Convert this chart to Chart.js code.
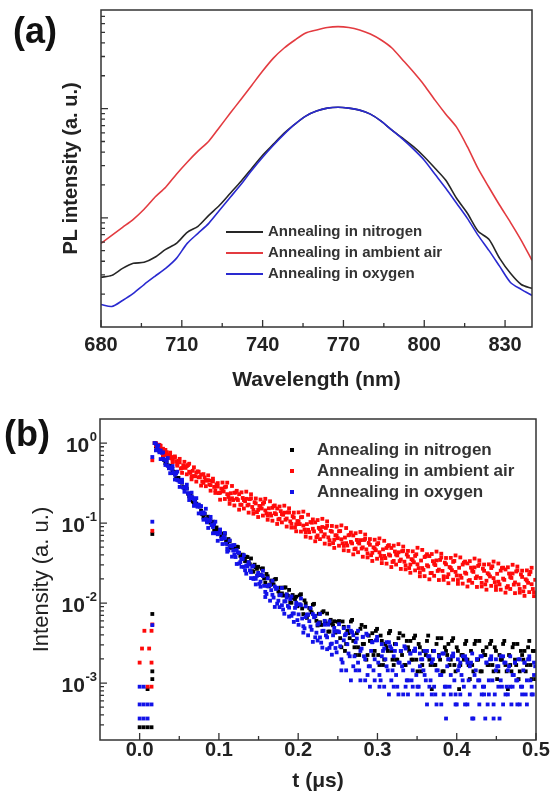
<!DOCTYPE html>
<html>
<head>
<meta charset="utf-8">
<script src="https://cdn.jsdelivr.net/npm/chart.js@4.4.1/dist/chart.umd.min.js"></script>
<style>
html, body { margin: 0; padding: 0; background: #fff; }
#wrap { position: relative; width: 552px; height: 798px; }
canvas { position: absolute; left: 0; }
#plA { top: 0; }
#plB { top: 400px; }
</style>
</head>
<body>
<div id="wrap">
  <canvas id="plA" width="552" height="400"></canvas>
  <canvas id="plB" width="552" height="398"></canvas>
</div>
<script>
// ---- panel (a): PL spectra
const wavelengths = [680,684,688,692,696,700,704,708,712,716,720,724,728,732,736,740,744,748,752,756,760,764,768,772,776,780,784,788,792,796,800,804,808,812,816,820,824,828,832,836,840];
const nitrogenPL = [0.285,0.297,0.344,0.383,0.391,0.435,0.514,0.583,0.736,0.836,1.054,1.302,1.678,2.162,2.845,3.745,4.725,5.96,7.21,8.54,9.49,10.1,10.3,10.1,9.69,8.9,7.68,6.35,5.36,4.48,3.627,2.845,2.208,1.509,1.1,0.752,0.635,0.425,0.31,0.245,0.2255];
const airPL = [0.583,0.691,0.818,0.969,1.197,1.542,1.905,2.506,3.229,4.074,5.03,6.76,9.1,12.2,16.4,22.1,29.0,35.9,42.5,49.3,52.5,55.3,56.3,55.3,52.5,48.2,42.5,35.9,27.9,21.6,16.4,11.96,8.9,6.76,4.48,2.815,1.905,1.302,0.909,0.622,0.408];
const oxygenPL = [0.161,0.154,0.175,0.203,0.245,0.291,0.344,0.425,0.583,0.721,0.89,1.172,1.542,2.029,2.728,3.59,4.625,5.84,7.21,8.54,9.49,10.1,10.3,10.1,9.69,8.9,7.68,6.35,5.25,4.25,3.37,2.506,1.865,1.358,0.989,0.691,0.503,0.359,0.256,0.221,0.1945];
const wavelengthTicks = [680,710,740,770,800,830];
const wavelengthMinor = [695,725,755,785,815];
const plMajor = [1,10];
const plMinor = [0.2,0.3,0.4,0.5,0.6,0.7,0.8,0.9,2,3,4,5,6,7,8,9,20,30,40,50,60,70];

// ---- panel (b): decays, several readings per time bin
const decayTimes = [0.019,0.022,0.025,0.028,0.031,0.034,0.037,0.04,0.043,0.046,0.049,0.052,0.055,0.058,0.061,0.064,0.067,0.07,0.073,0.076,0.079,0.082,0.085,0.088,0.091,0.094,0.097,0.1,0.103,0.106,0.109,0.112,0.115,0.118,0.121,0.124,0.127,0.13,0.133,0.136,0.139,0.142,0.145,0.148,0.151,0.154,0.157,0.16,0.163,0.166,0.169,0.172,0.175,0.178,0.181,0.184,0.187,0.19,0.193,0.196,0.199,0.202,0.205,0.208,0.211,0.214,0.217,0.22,0.223,0.226,0.229,0.232,0.235,0.238,0.241,0.244,0.247,0.25,0.253,0.256,0.259,0.262,0.265,0.268,0.271,0.274,0.277,0.28,0.283,0.286,0.289,0.292,0.295,0.298,0.301,0.304,0.307,0.31,0.313,0.316,0.319,0.322,0.325,0.328,0.331,0.334,0.337,0.34,0.343,0.346,0.349,0.352,0.355,0.358,0.361,0.364,0.367,0.37,0.373,0.376,0.379,0.382,0.385,0.388,0.391,0.394,0.397,0.4,0.403,0.406,0.409,0.412,0.415,0.418,0.421,0.424,0.427,0.43,0.433,0.436,0.439,0.442,0.445,0.448,0.451,0.454,0.457,0.46,0.463,0.466,0.469,0.472,0.475,0.478,0.481,0.484,0.487,0.49,0.493,0.496,0.499];
const decayTimesB = [0.0205,0.0235,0.0265,0.0295,0.0325,0.0355,0.0385,0.0415,0.0445,0.0475,
  0.0505,0.0535,0.0565,0.0595,0.0625,0.0655,0.0685,0.0715,0.0745,0.0775,
  0.0805,0.0835,0.0865,0.0895,0.0925,0.0955,0.0985,0.1015,0.1045,0.1075,
  0.1105,0.1135,0.1165,0.1195,0.1225,0.1255,0.1285,0.1315,0.1345,0.1375,
  0.1405,0.1435,0.1465,0.1495,0.1525,0.1555,0.1585,0.1615,0.1645,0.1675,
  0.1705,0.1735,0.1765,0.1795,0.1825,0.1855,0.1885,0.1915,0.1945,0.1975,
  0.2005,0.2035,0.2065,0.2095,0.2125,0.2155,0.2185,0.2215,0.2245,0.2275,
  0.2305,0.2335,0.2365,0.2395,0.2425,0.2455,0.2485,0.2515,0.2545,0.2575,
  0.2605,0.2635,0.2665,0.2695,0.2725,0.2755,0.2785,0.2815,0.2845,0.2875,
  0.2905,0.2935,0.2965,0.2995,0.3025,0.3055,0.3085,0.3115,0.3145,0.3175,
  0.3205,0.3235,0.3265,0.3295,0.3325,0.3355,0.3385,0.3415,0.3445,0.3475,
  0.3505,0.3535,0.3565,0.3595,0.3625,0.3655,0.3685,0.3715,0.3745,0.3775,
  0.3805,0.3835,0.3865,0.3895,0.3925,0.3955,0.3985,0.4015,0.4045,0.4075,
  0.4105,0.4135,0.4165,0.4195,0.4225,0.4255,0.4285,0.4315,0.4345,0.4375,
  0.4405,0.4435,0.4465,0.4495,0.4525,0.4555,0.4585,0.4615,0.4645,0.4675,
  0.4705,0.4735,0.4765,0.4795,0.4825,0.4855,0.4885,0.4915,0.4945,0.4975];
const nitrogenDecay = [1.0,0.904,0.789,0.767,0.612,0.581,0.494,0.504,0.421,0.366,
  0.367,0.326,0.282,0.281,0.233,0.228,0.186,0.185,0.165,0.162,
  0.129,0.13,0.106,0.117,0.0955,0.0804,0.0881,0.0785,0.0684,0.0741,
  0.0603,0.0631,0.049,0.0525,0.0473,0.0501,0.0389,0.0403,0.0335,0.0376,
  0.0305,0.025,0.0302,0.0268,0.0224,0.0269,0.0203,0.0231,0.0162,0.0191,
  0.0171,0.02,0.014,0.0156,0.0124,0.0157,0.0123,0.0102,0.0126,0.0112,
  0.00912,0.0125,0.00855,0.0108,0.00653,0.00869,0.00764,0.00977,0.006,0.00735,
  0.00532,0.00791,0.00557,0.00439,0.00617,0.00527,0.00427,0.00583,0.00364,0.00588,
  0.00252,0.00448,0.00364,0.00616,0.0028,0.0042,0.00224,0.00532,0.00308,0.00196,
  0.00392,0.00336,0.00224,0.00448,0.00224,0.00392,0.00168,0.00308,0.00252,0.00448,
  0.00196,0.00308,0.00196,0.0042,0.00224,0.00168,0.00336,0.00252,0.00196,0.00364,
  0.00196,0.00308,0.0014,0.00252,0.00224,0.00392,0.00168,0.00252,0.00168,0.00364,
  0.00196,0.0014,0.0028,0.00224,0.00168,0.00336,0.00168,0.0028,0.00084,0.00224,
  0.00196,0.00336,0.00168,0.00252,0.0014,0.00336,0.00196,0.0014,0.00252,0.00224,
  0.00168,0.00308,0.00168,0.0028,0.00112,0.00224,0.00196,0.00336,0.0014,0.00224,
  0.0014,0.00308,0.00168,0.00112,0.00252,0.00196,0.0014,0.0028,0.00168,0.00252,
  0.00112];
const nitrogenDecayB = [0.906,0.847,0.797,0.667,0.562,0.525,0.52,0.446,0.434,0.352,
  0.344,0.32,0.273,0.271,0.215,0.215,0.183,0.175,0.167,0.143,
  0.117,0.114,0.12,0.101,0.104,0.0785,0.0822,0.0804,0.0676,0.0733,
  0.055,0.0596,0.0495,0.0501,0.0507,0.0422,0.0359,0.0355,0.038,0.0324,
  0.0361,0.0246,0.0279,0.0284,0.0226,0.0271,0.018,0.0216,0.017,0.0182,
  0.0197,0.0155,0.0127,0.0132,0.0156,0.0128,0.0146,0.0101,0.0116,0.012,
  0.00942,0.0129,0.00728,0.0099,0.00713,0.00826,0.00952,0.00685,0.00525,0.00575,
  0.00766,0.00586,0.00738,0.00441,0.00555,0.00592,0.00441,0.00596,0.0028,0.00504,
  0.00308,0.0042,0.00588,0.00336,0.00224,0.0028,0.00476,0.00308,0.00504,0.00224,
  0.00336,0.0042,0.00252,0.00476,0.00168,0.00336,0.00196,0.0028,0.0042,0.00252,
  0.00168,0.00196,0.00364,0.00252,0.00392,0.00168,0.0028,0.00336,0.00196,0.00392,
  0.0014,0.0028,0.00168,0.00252,0.00336,0.00196,0.00084,0.00168,0.00308,0.00224,
  0.00364,0.0014,0.00252,0.00308,0.00196,0.00364,0.0014,0.00252,0.00168,0.00224,
  0.00308,0.00196,0.00112,0.00168,0.00308,0.00196,0.00336,0.0014,0.00224,0.0028,
  0.00168,0.00336,0.0014,0.00252,0.0014,0.00196,0.00308,0.00168,0.00084,0.00168,
  0.0028,0.00196,0.00308,0.0014,0.00224,0.00252,0.00168,0.00336,0.00112,0.00252];
const airDecay = [1.0,0.9,0.95,0.83,0.75,0.77,0.71,0.645,0.67,0.585,
  0.6,0.48,0.527,0.489,0.531,0.423,0.45,0.384,0.443,0.374,
  0.33,0.372,0.34,0.304,0.338,0.283,0.304,0.237,0.27,0.248,
  0.285,0.212,0.236,0.194,0.241,0.194,0.17,0.206,0.188,0.166,
  0.199,0.159,0.182,0.137,0.164,0.152,0.182,0.132,0.153,0.124,
  0.163,0.129,0.111,0.141,0.127,0.11,0.136,0.105,0.122,0.088,
  0.106,0.097,0.119,0.083,0.097,0.077,0.101,0.0787,0.0666,0.0872,
  0.0785,0.0678,0.0869,0.0663,0.0798,0.0561,0.0704,0.0647,0.0795,0.0559,
  0.0659,0.0524,0.0714,0.0557,0.0471,0.0616,0.0555,0.048,0.0614,0.0469,
  0.0564,0.0396,0.0497,0.0457,0.0562,0.039,0.0469,0.0365,0.0516,0.0392,
  0.0326,0.0441,0.0394,0.0335,0.0443,0.0329,0.0405,0.0274,0.0354,0.0323,
  0.0407,0.0274,0.034,0.026,0.0385,0.0287,0.0237,0.0334,0.0298,0.0252,
  0.0346,0.0252,0.032,0.0211,0.0282,0.0257,0.0336,0.0221,0.0276,0.0207,
  0.0319,0.0233,0.019,0.0277,0.0245,0.0205,0.0291,0.0206,0.0269,0.0171,
  0.0236,0.0215,0.0288,0.0183,0.0232,0.0171,0.0274,0.0195,0.0156,0.0234,
  0.0206,0.017,0.0248,0.0171,0.0228,0.014,0.0198,0.0179,0.0245,0.015,
  0.0195];
const airDecayB = [0.935,0.953,0.845,0.849,0.71,0.72,0.703,0.628,0.653,0.543,
  0.575,0.488,0.502,0.516,0.438,0.381,0.387,0.427,0.374,0.403,
  0.318,0.342,0.344,0.298,0.332,0.256,0.286,0.24,0.259,0.28,
  0.23,0.195,0.204,0.239,0.202,0.23,0.169,0.194,0.201,0.17,
  0.204,0.146,0.176,0.146,0.159,0.174,0.144,0.124,0.131,0.155,
  0.133,0.152,0.113,0.129,0.135,0.114,0.136,0.0977,0.117,0.0966,
  0.105,0.118,0.0931,0.0766,0.0824,0.103,0.0849,0.102,0.07,0.0841,
  0.0893,0.0724,0.0925,0.061,0.078,0.0618,0.0698,0.0789,0.0627,0.0518,
  0.0561,0.0703,0.0582,0.07,0.048,0.0577,0.0612,0.0497,0.0635,0.0418,
  0.0535,0.0425,0.048,0.0542,0.0431,0.0357,0.0388,0.0488,0.0405,0.0488,
  0.0336,0.0405,0.0431,0.035,0.0449,0.0296,0.038,0.0303,0.0343,0.0388,
  0.0305,0.0242,0.0274,0.0376,0.0297,0.0386,0.0238,0.031,0.0341,0.0262,
  0.0371,0.0216,0.0305,0.0229,0.0274,0.0327,0.0245,0.0194,0.022,0.0303,
  0.024,0.0313,0.0194,0.0253,0.0279,0.0215,0.0305,0.0179,0.0253,0.019,
  0.0228,0.0274,0.0205,0.0163,0.0185,0.0254,0.0202,0.0263,0.0163,0.0212,
  0.0234,0.0181,0.0256,0.015,0.0212,0.0159,0.0191,0.0229,0.0172,0.0136];
const airDecayC = [1.0,0.82,0.925,0.708,0.822,0.653,0.76,0.574,0.681,0.522,
  0.635,0.424,0.583,0.407,0.552,0.352,0.498,0.33,0.438,0.294,
  0.409,0.289,0.395,0.254,0.359,0.238,0.316,0.196,0.321,0.2,
  0.32,0.174,0.291,0.166,0.253,0.147,0.242,0.152,0.247,0.135,
  0.229,0.131,0.203,0.119,0.197,0.124,0.201,0.11,0.187,0.107,
  0.166,0.0975,0.161,0.102,0.165,0.0904,0.153,0.0877,0.135,0.0789,
  0.136,0.0782,0.139,0.0676,0.127,0.0655,0.111,0.0592,0.109,0.063,
  0.113,0.0553,0.105,0.0542,0.092,0.0489,0.0902,0.0521,0.0935,0.0457,
  0.0867,0.0449,0.0762,0.0406,0.0746,0.0432,0.0774,0.0379,0.0719,0.0372,
  0.0631,0.0336,0.0619,0.0358,0.0643,0.0316,0.06,0.0311,0.053,0.0282,
  0.0522,0.0303,0.0545,0.0267,0.0508,0.0264,0.0449,0.0239,0.0443,0.0256,
  0.0491,0.0216,0.0462,0.0217,0.0408,0.0198,0.041,0.0219,0.044,0.0194,
  0.0414,0.0195,0.0366,0.0177,0.0367,0.0196,0.0394,0.0174,0.0372,0.0175,
  0.033,0.0161,0.0334,0.0179,0.036,0.0159,0.0341,0.0161,0.0303,0.0147,
  0.0305,0.0164,0.033,0.0146,0.0312,0.0147,0.0277,0.0135,0.028,0.015,
  0.0301,0.0133,0.0286,0.0135,0.0254,0.0123,0.0256,0.0137,0.0276,0.0122];
const oxygenDecay = [1.0,0.897,0.767,0.757,0.621,0.593,0.484,0.48,0.424,0.417,
  0.34,0.33,0.278,0.283,0.237,0.206,0.207,0.183,0.16,0.16,
  0.131,0.132,0.102,0.106,0.0945,0.0966,0.0746,0.0756,0.0629,0.0677,
  0.0551,0.0454,0.0525,0.0454,0.0376,0.0428,0.0325,0.0356,0.0257,0.0288,
  0.0256,0.0285,0.0206,0.0219,0.0174,0.0224,0.0164,0.013,0.0168,0.0145,
  0.0117,0.015,0.0107,0.0127,0.0083,0.0105,0.0092,0.0112,0.0074,0.0087,
  0.00612,0.00968,0.00641,0.00483,0.00716,0.00594,0.00462,0.00664,0.00426,0.00561,
  0.0032,0.0045,0.00394,0.00537,0.00306,0.00395,0.00274,0.00443,0.00288,0.0018,
  0.00396,0.00306,0.00216,0.00432,0.00216,0.0036,0.00144,0.0027,0.00216,0.00414,
  0.00162,0.00252,0.00144,0.00342,0.0018,0.00108,0.00252,0.00198,0.00144,0.00288,
  0.00144,0.00252,0.0009,0.0018,0.00162,0.00288,0.00108,0.0018,0.00108,0.00252,
  0.00126,0.0009,0.00198,0.00144,0.00108,0.00216,0.00108,0.00198,0.00072,0.00144,
  0.00126,0.00234,0.0009,0.00162,0.0009,0.00216,0.00108,0.00054,0.00162,0.00126,
  0.0009,0.00198,0.00108,0.0018,0.00036,0.00144,0.00108,0.00216,0.0009,0.00036,
  0.00054,0.00198,0.00108,0.00072,0.00162,0.00036,0.0009,0.0018,0.0009,0.00162,
  0.00054,0.00126,0.00108,0.00198,0.0009,0.00144,0.00072,0.00198,0.00108,0.00072,
  0.00162];
const oxygenDecayB = [0.984,0.824,0.808,0.635,0.619,0.521,0.499,0.475,0.402,0.347,
  0.327,0.322,0.277,0.269,0.217,0.212,0.199,0.17,0.17,0.135,
  0.136,0.112,0.1095,0.108,0.0893,0.075,0.0724,0.0757,0.0639,0.065,
  0.048,0.052,0.0512,0.0406,0.046,0.0312,0.0357,0.0284,0.0295,0.0306,
  0.0243,0.02,0.0201,0.0226,0.0185,0.0218,0.0138,0.0162,0.0167,0.0127,
  0.0161,0.00983,0.0125,0.00939,0.0105,0.0117,0.00876,0.00692,0.00741,0.00928,
  0.00722,0.0094,0.00513,0.00669,0.00719,0.00508,0.00729,0.00373,0.00538,0.00372,
  0.00446,0.00536,0.00373,0.00275,0.00311,0.0044,0.00326,0.00433,0.00198,0.00342,
  0.00414,0.00234,0.0045,0.00162,0.00324,0.0018,0.00252,0.00378,0.00198,0.00126,
  0.00162,0.00324,0.00198,0.00342,0.00126,0.00216,0.0027,0.00162,0.00324,0.00108,
  0.00216,0.00126,0.0018,0.00252,0.00144,0.0009,0.00108,0.00234,0.00144,0.00252,
  0.0009,0.00162,0.00198,0.00126,0.00252,0.0009,0.0018,0.0009,0.00144,0.00216,
  0.00126,0.00072,0.00036,0.00198,0.00126,0.00216,0.00072,0.00144,0.0018,0.00108,
  0.00216,0.00054,0.00162,0.00036,0.00126,0.00198,0.00108,0.00072,0.0009,0.0018,
  0.00108,0.00198,0.00036,0.00144,0.00162,0.00108,0.00216,0.00072,0.00144,0.0009,
  0.00126,0.0018,0.00108,0.00054,0.0009,0.0018,0.00108,0.00198,0.00072,0.00126];
const oxygenDecayC = [0.811,0.93,0.631,0.766,0.532,0.65,0.42,0.516,0.35,0.439,
  0.283,0.348,0.246,0.302,0.194,0.24,0.164,0.205,0.132,0.163,
  0.11,0.151,0.0869,0.1195,0.0745,0.104,0.06,0.0831,0.0547,0.0752,
  0.0438,0.0606,0.038,0.0532,0.0308,0.0426,0.0284,0.0397,0.0233,0.0324,
  0.0205,0.0292,0.0171,0.0238,0.016,0.0253,0.0119,0.0204,0.0107,0.019,
  0.00894,0.0155,0.0089,0.0154,0.00735,0.0128,0.00677,0.0121,0.00581,0.0101,
  0.00535,0.0114,0.00427,0.00907,0.00395,0.0087,0.00327,0.00694,0.0034,0.0073,
  0.00277,0.00599,0.00265,0.00592,0.00226,0.00489,0.00242,0.00544,0.00144,0.00486,
  0.00144,0.00504,0.00108,0.00396,0.00144,0.0045,0.00108,0.00378,0.00108,0.00396,
  0.0009,0.00324,0.00108,0.00378,0.0009,0.00306,0.0009,0.00324,0.00072,0.0027,
  0.0009,0.00306,0.00072,0.00252,0.00072,0.0027,0.00072,0.00234,0.0009,0.0027,
  0.00072,0.00234,0.00072,0.00252,0.00054,0.00216,0.00072,0.00252,0.00054,0.00216,
  0.00054,0.00234,0.0009,0.00198,0.00072,0.00234,0.00054,0.00198,0.00072,0.00216,
  0.00054,0.0018,0.00072,0.00234,0.0009,0.00198,0.00054,0.00216,0.00072,0.0018,
  0.00072,0.00216,0.00054,0.00198,0.0009,0.00216,0.00054,0.0018,0.00072,0.00216,
  0.0009,0.0018,0.00054,0.00198,0.00072,0.0018,0.00054,0.00216,0.0009,0.0018];
// points before the excitation peak [t, intensity]
const nitrogenRise = [[0,2.8e-4],[0.005,2.8e-4],[0.01,2.8e-4],[0.015,2.8e-4],[0.01,8.4e-4],[0.016,1.12e-3],[0.016,1.4e-3],[0.016,7.3e-3],[0.016,0.073]];
const airRise = [[0,1.8e-3],[0.003,2.7e-3],[0.006,4.5e-3],[0.01,9e-4],[0.012,2.7e-3],[0.015,9e-4],[0.015,1.8e-3],[0.015,4.5e-3],[0.016,5.4e-3],[0.016,0.08],[0.016,0.61]];
const oxygenRise = [[0,3.6e-4],[0.005,3.6e-4],[0.01,3.6e-4],[0,5.4e-4],[0.005,5.4e-4],[0.01,5.4e-4],[0.015,5.4e-4],[0,9e-4],[0.005,9e-4],[0.016,5.3e-3],[0.016,0.104],[0.016,0.67]];
const timeTicks = [0,0.1,0.2,0.3,0.4,0.5];
const timeMinor = [0.05,0.15,0.25,0.35,0.45];
const intensityTicks = [1,0.1,0.01,0.001];
const intensityMinor = [3e-4,4e-4,5e-4,6e-4,7e-4,8e-4,9e-4,2e-3,3e-3,4e-3,5e-3,6e-3,7e-3,8e-3,9e-3,0.02,0.03,0.04,0.05,0.06,0.07,0.08,0.09,0.2,0.3,0.4,0.5,0.6,0.7,0.8,0.9];

const FONT = '"Liberation Sans", Arial, sans-serif';
Chart.defaults.font.family = FONT;
Chart.defaults.color = '#222';

// frame, inward ticks, legend, panel letter
const decor = {
  id: 'decor',
  afterDraw(chart, args, o) {
    const {ctx, chartArea: a, scales: {x, y}} = chart;
    ctx.save();
    ctx.strokeStyle = '#333';
    ctx.lineWidth = 1.5;
    ctx.strokeRect(a.left, a.top, a.right - a.left, a.bottom - a.top);
    ctx.lineWidth = 1.3;
    ctx.beginPath();
    const xt = (vals, len) => vals.forEach(v => {
      const p = x.getPixelForValue(v);
      ctx.moveTo(p, a.bottom); ctx.lineTo(p, a.bottom - len);
    });
    const yt = (vals, len) => vals.forEach(v => {
      const p = y.getPixelForValue(v);
      ctx.moveTo(a.left, p); ctx.lineTo(a.left + len, p);
    });
    xt(o.xMajor, 7); xt(o.xMinor, 4);
    yt(o.yMajor, 7); yt(o.yMinor, 4);
    ctx.stroke();

    // power-of-ten labels
    if (o.powLabels) {
      ctx.fillStyle = '#222';
      ctx.textBaseline = 'middle';
      o.powLabels.forEach(v => {
        const p = y.getPixelForValue(v);
        const e = String(Math.round(Math.log10(v)));
        ctx.font = 'bold 13px ' + FONT;
        const ex = a.left - 3 - ctx.measureText(e).width;
        ctx.textAlign = 'left';
        ctx.fillText(e, ex, p - 6);
        ctx.font = 'bold 21px ' + FONT;
        ctx.textAlign = 'right';
        ctx.fillText('10', ex - 0.5, p + 3);
      });
    }

    // legend
    const L = o.legend;
    ctx.font = 'bold ' + L.size + 'px ' + FONT;
    ctx.textAlign = 'left';
    ctx.textBaseline = 'middle';
    chart.data.datasets.forEach((ds, i) => {
      const ly = L.y + i * L.gap;
      if (L.line) {
        ctx.strokeStyle = ds.borderColor;
        ctx.lineWidth = 2;
        ctx.beginPath();
        ctx.moveTo(L.x, ly); ctx.lineTo(L.x + L.line, ly);
        ctx.stroke();
      } else {
        ctx.fillStyle = ds.backgroundColor;
        ctx.fillRect(L.x - 2, ly - 2, 4, 4);
      }
      ctx.fillStyle = '#333';
      ctx.fillText(ds.label, L.textX, ly);
    });

    ctx.fillStyle = '#111';
    ctx.font = 'bold 36px ' + FONT;
    ctx.textAlign = 'left';
    ctx.textBaseline = 'alphabetic';
    ctx.fillText(o.letter, o.letterX, o.letterY);
    ctx.restore();
  }
};

function linePts(vals) {
  return wavelengths.map((w, i) => ({x: w, y: vals[i]}));
}
// rise points, then each [times, values] reading set
function decayPts(rise, ...sets) {
  let pts = rise.map(p => ({x: p[0], y: p[1]}));
  sets.forEach(([ts, vs]) => {
    pts = pts.concat(ts.map((t, i) => ({x: t, y: vs[i]})));
  });
  return pts;
}

new Chart(document.getElementById('plA'), {
  type: 'line',
  data: {
    datasets: [
      {label: 'Annealing in nitrogen', data: linePts(nitrogenPL), borderColor: '#262626', order: 2},
      {label: 'Annealing in ambient air', data: linePts(airPL), borderColor: '#e33b40', order: 1},
      {label: 'Annealing in oxygen', data: linePts(oxygenPL), borderColor: '#2a2ad0', order: 0}
    ]
  },
  options: {
    responsive: false, animation: false, devicePixelRatio: 1, events: [],
    layout: {padding: {top: 10, right: 20, left: 0, bottom: 0}},
    elements: {point: {radius: 0}, line: {borderWidth: 1.6, tension: 0.25}},
    plugins: {
      legend: {display: false}, tooltip: {enabled: false},
      decor: {
        xMajor: wavelengthTicks, xMinor: wavelengthMinor, yMajor: plMajor, yMinor: plMinor,
        legend: {x: 226, line: 37, textX: 268, y: 232, gap: 21, size: 15},
        letter: '(a)', letterX: 13, letterY: 43
      }
    },
    scales: {
      x: {
        type: 'linear', min: 680, max: 840,
        afterBuildTicks: s => { s.ticks = wavelengthTicks.map(v => ({value: v})); },
        afterFit: s => { s.height = 73; },
        grid: {display: false, drawTicks: false}, border: {display: false},
        ticks: {font: {size: 20, weight: 'bold'}, padding: 6, maxRotation: 0, autoSkip: false},
        title: {display: true, text: 'Wavelength (nm)', font: {size: 21, weight: 'bold'}, padding: {top: 0, bottom: 7}}
      },
      y: {
        type: 'logarithmic', min: 0.1, max: 80,
        afterFit: s => { s.width = 101; },
        grid: {display: false, drawTicks: false}, border: {display: false},
        ticks: {display: false},
        title: {display: true, text: 'PL intensity (a. u.)', font: {size: 20, weight: 'bold'}, padding: {top: 59, bottom: 0}}
      }
    }
  },
  plugins: [decor]
});

new Chart(document.getElementById('plB'), {
  type: 'scatter',
  data: {
    datasets: [
      {label: 'Annealing in nitrogen', backgroundColor: '#000000', order: 2,
       data: decayPts(nitrogenRise, [decayTimes, nitrogenDecay], [decayTimesB, nitrogenDecayB])},
      {label: 'Annealing in ambient air', backgroundColor: '#ff0a0a', order: 1,
       data: decayPts(airRise, [decayTimes, airDecay], [decayTimesB, airDecayB], [decayTimesB, airDecayC])},
      {label: 'Annealing in oxygen', backgroundColor: '#1212e8', order: 0,
       data: decayPts(oxygenRise, [decayTimes, oxygenDecay], [decayTimesB, oxygenDecayB], [decayTimesB, oxygenDecayC])}
    ]
  },
  options: {
    responsive: false, animation: false, devicePixelRatio: 1, events: [],
    layout: {padding: {top: 19, right: 16, left: 0, bottom: 0}},
    elements: {point: {pointStyle: 'rect', radius: 2.7, borderWidth: 0}},
    plugins: {
      legend: {display: false}, tooltip: {enabled: false},
      decor: {
        xMajor: timeTicks, xMinor: timeMinor, yMajor: intensityTicks, yMinor: intensityMinor,
        powLabels: intensityTicks,
        legend: {x: 292, line: 0, textX: 317, y: 50, gap: 21, size: 17},
        letter: '(b)', letterX: 4, letterY: 46
      }
    },
    scales: {
      x: {
        type: 'linear', min: -0.05, max: 0.5,
        afterBuildTicks: s => { s.ticks = timeTicks.map(v => ({value: v})); },
        afterFit: s => { s.height = 58; },
        grid: {display: false, drawTicks: false}, border: {display: false},
        ticks: {callback: v => v.toFixed(1), font: {size: 20, weight: 'bold', lineHeight: 1}, padding: 0, maxRotation: 0, autoSkip: false},
        title: {display: true, text: 't (\u03bcs)', font: {size: 21, weight: 'bold'}, padding: {top: 0, bottom: 4}}
      },
      y: {
        type: 'logarithmic', min: 1.94e-4, max: 2,
        afterFit: s => { s.width = 100; },
        grid: {display: false, drawTicks: false}, border: {display: false},
        ticks: {display: false},
        title: {display: true, text: 'Intensity (a. u.)', font: {size: 22, weight: 'normal'}, padding: {top: 29, bottom: 0}}
      }
    }
  },
  plugins: [decor]
});
</script>
</body>
</html>
